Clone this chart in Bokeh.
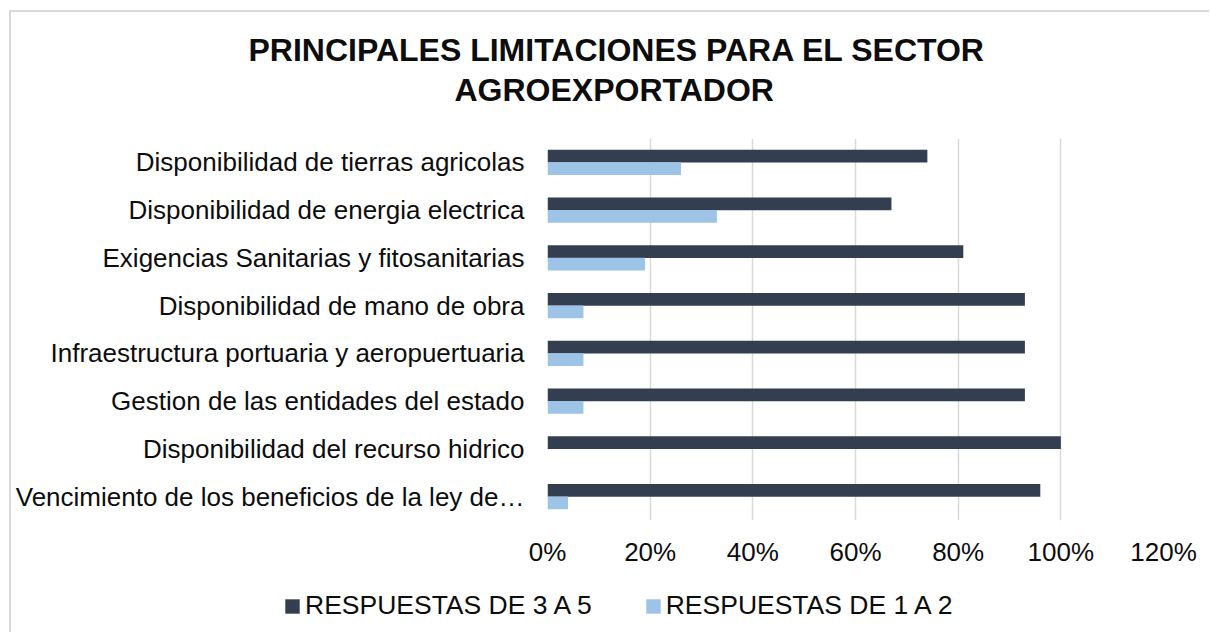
from bokeh.plotting import figure
from bokeh.layouts import column
from bokeh.models import (FactorRange, Range1d, FixedTicker, NumeralTickFormatter,
                          Legend, LegendItem, Title, ColumnDataSource)
from bokeh.transform import dodge
from bokeh.embed import file_html
from bokeh.resources import INLINE

categories = [
    "Disponibilidad de tierras agricolas",
    "Disponibilidad de energia electrica",
    "Exigencias Sanitarias y fitosanitarias",
    "Disponibilidad de mano de obra",
    "Infraestructura portuaria y aeropuertuaria",
    "Gestion de las entidades del estado",
    "Disponibilidad del recurso hidrico",
    "Vencimiento de los beneficios de la ley de\u2026",
]
resp_3_5 = [0.74, 0.67, 0.81, 0.93, 0.93, 0.93, 1.00, 0.96]
resp_1_2 = [0.26, 0.33, 0.19, 0.07, 0.07, 0.07, 0.00, 0.04]
series_names = ["RESPUESTAS DE 3 A 5", "RESPUESTAS DE 1 A 2"]
x_ticks = [0, 0.2, 0.4, 0.6, 0.8, 1.0, 1.2]
title_lines = ["PRINCIPALES LIMITACIONES PARA EL SECTOR", "AGROEXPORTADOR"]

DARK = "#333F50"
LIGHT = "#9DC3E6"
TXT = "#0d0d0d"
FONT = "Liberation Sans"

src = ColumnDataSource(dict(cat=categories, v35=resp_3_5, v12=resp_1_2))

# ---------------- main chart ----------------
p = figure(width=1198, height=560,
           y_range=FactorRange(factors=categories[::-1]),
           x_range=Range1d(0, 1.2),
           output_backend="svg", toolbar_location=None,
           min_border_left=536, min_border_right=46,
           min_border_top=126, min_border_bottom=52)
p.frame_align = False

r1 = p.hbar(y=dodge("cat", 0.131, range=p.y_range), right="v35", height=0.265,
            source=src, fill_color=DARK, line_color=None)
r2 = p.hbar(y=dodge("cat", -0.131, range=p.y_range), right="v12", height=0.265,
            source=src, fill_color=LIGHT, line_color=None)

xax = p.below[0]
yax = p.left[0]
xax.ticker = FixedTicker(ticks=x_ticks)
xax.formatter = NumeralTickFormatter(format="0%")
for ax in (xax, yax):
    ax.axis_line_color = None
    ax.major_tick_line_color = None
    ax.minor_tick_line_color = None
    ax.major_tick_out = 0
    ax.major_tick_in = 0
    ax.major_label_text_font = FONT
    ax.major_label_text_font_size = "26px"
    ax.major_label_text_color = TXT
xax.major_label_standoff = 16
yax.major_label_standoff = 23

# two-line title: second line sits next to the frame, first line above it
t2 = Title(text=title_lines[1], align="left", offset=-93, standoff=62,
           text_font=FONT, text_font_size="32px", text_font_style="bold",
           text_color=TXT)
p.add_layout(t2, "above")
p.title = Title(text=title_lines[0], align="left", offset=-299, standoff=-58,
                text_font=FONT, text_font_size="32px", text_font_style="bold",
                text_color=TXT)

p.xgrid.grid_line_color = "#D9D9D9"
p.xgrid.grid_line_width = 1.5
p.ygrid.grid_line_color = None
p.outline_line_color = None

# ---------------- legend strip ----------------
q = figure(width=1198, height=60, x_range=Range1d(0, 1), y_range=Range1d(0, 1),
           output_backend="svg", toolbar_location=None,
           min_border=0, x_axis_type=None, y_axis_type=None)
q.frame_align = False
q.grid.visible = False
q.outline_line_color = None
k1 = q.hbar(y=dodge("cat", 0, range=p.y_range), right="v35", height=0.265,
            source=src, fill_color=DARK, line_color=None, visible=False)
k2 = q.hbar(y=dodge("cat", 0, range=p.y_range), right="v12", height=0.265,
            source=src, fill_color=LIGHT, line_color=None, visible=False)
legend = Legend(items=[LegendItem(label=series_names[0], renderers=[k1]),
                       LegendItem(label=series_names[1], renderers=[k2])],
                orientation="horizontal", location=(272, 11),
                label_text_font=FONT, label_text_font_size="26.5px",
                label_text_color=TXT, glyph_width=18, glyph_height=18,
                label_standoff=4, spacing=52, padding=0, margin=0,
                border_line_color=None, background_fill_alpha=0)
q.add_layout(legend)

layout = column(p, q, spacing=0)
layout.styles = {"margin-left": "9px", "margin-top": "10px",
                 "border-left": "2px solid #D9D9D9", "border-top": "2px solid #D9D9D9"}

open("out.html", "w").write(file_html(layout, INLINE))
